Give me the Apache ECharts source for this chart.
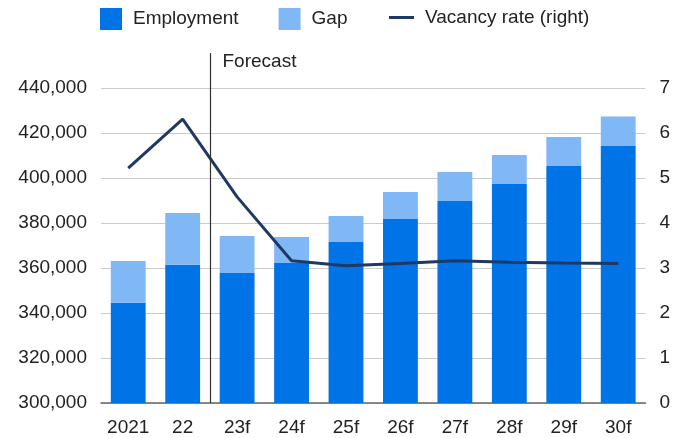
<!DOCTYPE html>
<html>
<head>
<meta charset="utf-8">
<script src="https://cdn.jsdelivr.net/npm/echarts@6/dist/echarts.min.js"></script>
<style>
  html, body { margin: 0; padding: 0; background: #fff; }
  #chart { width: 673px; height: 438px; }
</style>
</head>
<body>
<div id="chart"></div>
<script>
// categories and values
const categories = ['2021', '22', '23f', '24f', '25f', '26f', '27f', '28f', '29f', '30f'];
const employment = [344600, 361500, 357800, 362200, 371600, 381800, 389800, 397300, 405300, 414200];
const gap = [18500, 22900, 16400, 11600, 11500, 12000, 12900, 12900, 12900, 13100];
const vacancyRate = [5.22, 6.31, 4.58, 3.16, 3.05, 3.1, 3.16, 3.13, 3.11, 3.1];
const forecastAfter = 1; // vertical line between '22' and '23f'

const fontFamily = '"Liberation Sans", Arial, sans-serif';
const chart = echarts.init(document.getElementById('chart'));

const legendText = { fontSize: 19, color: '#222', fontFamily: fontFamily, padding: [3, 0, 0, 6] };

const option = {
  animation: false,
  textStyle: { fontFamily: fontFamily },
  legend: [
    {
      top: 3,
      left: 95,
      itemWidth: 22,
      itemHeight: 22,
      itemGap: 40,
      selectedMode: false,
      icon: 'rect',
      textStyle: legendText,
      data: ['Employment', 'Gap']
    },
    {
      top: 3,
      left: 384,
      itemWidth: 25,
      itemHeight: 22,
      selectedMode: false,
      icon: 'path://M0,9.5H25V12.5H0Z',
      textStyle: legendText,
      data: ['Vacancy rate (right)']
    }
  ],
  grid: { left: 101, right: 24, top: 88, bottom: 35, containLabel: false },
  xAxis: {
    type: 'category',
    data: categories,
    axisTick: { show: false },
    axisLine: { lineStyle: { color: '#666', width: 1.5 } },
    axisLabel: { fontSize: 19, color: '#222', margin: 15, interval: 0 }
  },
  yAxis: [
    {
      type: 'value',
      min: 300000,
      max: 440000,
      interval: 20000,
      axisLine: { show: false },
      axisTick: { show: false },
      splitLine: { lineStyle: { color: '#ccc' } },
      axisLabel: {
        fontSize: 19,
        color: '#222',
        margin: 14,
        formatter: v => v.toLocaleString('en-US')
      }
    },
    {
      type: 'value',
      min: 0,
      max: 7,
      interval: 1,
      axisLine: { show: false },
      axisTick: { show: false },
      splitLine: { show: false },
      axisLabel: { fontSize: 19, color: '#222', margin: 14 }
    }
  ],
  series: [
    {
      name: 'Employment',
      type: 'bar',
      stack: 'total',
      barWidth: '64%',
      itemStyle: { color: '#0073e6' },
      data: employment
    },
    {
      name: 'Gap',
      type: 'bar',
      stack: 'total',
      itemStyle: { color: '#80b8f5' },
      data: gap
    },
    {
      name: 'Vacancy rate (right)',
      type: 'line',
      yAxisIndex: 1,
      symbol: 'none',
      lineStyle: { color: '#1f3864', width: 3 },
      itemStyle: { color: '#1f3864' },
      data: vacancyRate
    }
  ]
};
chart.setOption(option);

// forecast divider between the last actual and first forecast year
const x0 = chart.convertToPixel({ xAxisIndex: 0 }, categories[forecastAfter]);
const x1 = chart.convertToPixel({ xAxisIndex: 0 }, categories[forecastAfter + 1]);
const xMid = Math.round((x0 + x1) / 2) + 0.5;
const yBase = chart.convertToPixel({ yAxisIndex: 0 }, 300000);
chart.setOption({
  graphic: [
    {
      type: 'line',
      shape: { x1: xMid, y1: 53, x2: xMid, y2: yBase },
      style: { stroke: '#333', lineWidth: 1.2 },
      z: 10
    },
    {
      type: 'text',
      x: xMid + 12,
      y: 62,
      style: {
        text: 'Forecast',
        fontSize: 19,
        fill: '#222',
        fontFamily: fontFamily,
        verticalAlign: 'middle'
      }
    }
  ]
});
</script>
</body>
</html>
